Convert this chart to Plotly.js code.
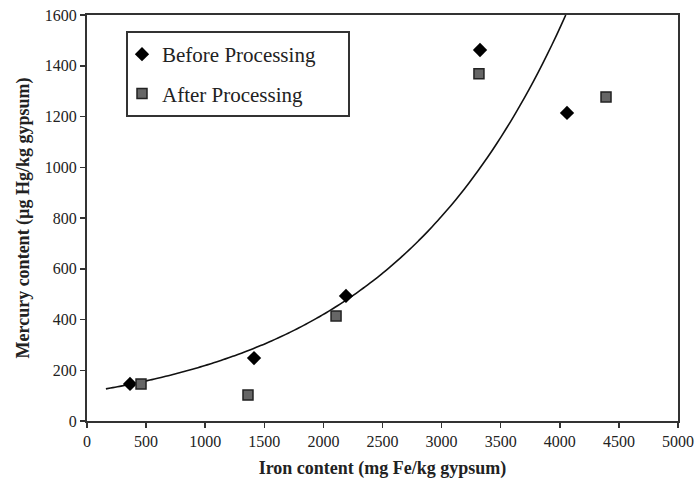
<!DOCTYPE html>
<html><head><meta charset="utf-8">
<script src="https://cdn.plot.ly/plotly-3.0.1.min.js"></script>
<style>html,body{margin:0;padding:0;background:#fff}#c{width:700px;height:480px}</style>
</head><body><div id="c"></div>
<script>
const beforeX = [364, 1413, 2191, 3325, 4061];
const beforeY = [146, 248, 493, 1462, 1214];
const afterX = [457, 1362, 2107, 3316, 4391];
const afterY = [146, 102, 414, 1368, 1277];
const xTicks = [0, 500, 1000, 1500, 2000, 2500, 3000, 3500, 4000, 4500, 5000];
const yTicks = [0, 200, 400, 600, 800, 1000, 1200, 1400, 1600];
const trendStart = 160;

// exponential trend line fitted (least squares on ln y) to the Before data
function expFit(xs, ys) {
  const n = xs.length;
  const ly = ys.map(Math.log);
  const mx = xs.reduce((a, b) => a + b, 0) / n;
  const my = ly.reduce((a, b) => a + b, 0) / n;
  let sxy = 0, sxx = 0;
  for (let i = 0; i < n; i++) { sxy += (xs[i] - mx) * (ly[i] - my); sxx += (xs[i] - mx) ** 2; }
  const b = sxy / sxx;
  return { a: Math.exp(my - b * mx), b: b };
}
const fit = expFit(beforeX, beforeY);
const xEnd = Math.log(1600 / fit.a) / fit.b;
const tx = [], ty = [];
for (let i = 0; i <= 100; i++) {
  const x = trendStart + (xEnd - trendStart) * i / 100;
  tx.push(x); ty.push(fit.a * Math.exp(fit.b * x));
}

const font = 'Liberation Serif, Times New Roman, serif';
const traces = [
  { x: tx, y: ty, mode: 'lines', line: { color: '#111', width: 1.6, shape: 'spline' }, showlegend: false, hoverinfo: 'skip' },
  { x: beforeX, y: beforeY, mode: 'markers', name: 'Before Processing', legendgroup: 'b',
    marker: { symbol: 'diamond', size: 11, color: '#000' } },
  { x: afterX, y: afterY, mode: 'markers', name: 'After Processing', legendgroup: 'a',
    marker: { symbol: 'square', size: 10, color: '#666', line: { color: '#222', width: 1.5 } } }
];
const axisCommon = {
  showgrid: false, zeroline: false, showline: true, linecolor: '#333', linewidth: 2,
  mirror: true, ticks: 'outside', ticklen: 5, tickwidth: 1.5, tickcolor: '#333',
  tickfont: { family: font, size: 16, color: '#222' }
};
const layout = {
  width: 700, height: 480,
  margin: { l: 87, r: 22, t: 15, b: 59 },
  paper_bgcolor: '#fff', plot_bgcolor: '#fff',
  font: { family: font, color: '#222' },
  xaxis: Object.assign({}, axisCommon, {
    range: [0, 5000], tickvals: xTicks, ticktext: xTicks.map(String),
    title: { text: 'Iron content (mg Fe/kg gypsum)', font: { family: font, size: 18, color: '#222', weight: 'bold' }, standoff: 12 }
  }),
  yaxis: Object.assign({}, axisCommon, {
    range: [0, 1600], tickvals: yTicks, ticktext: yTicks.map(String),
    title: { text: 'Mercury content (µg Hg/kg gypsum)', font: { family: font, size: 18, color: '#222', weight: 'bold' }, standoff: 10 }
  }),
  shapes: [{
    type: 'rect', xref: 'paper', yref: 'paper', layer: 'below',
    x0: 40 / 591, x1: 262 / 591, y0: 305 / 406, y1: 389 / 406,
    line: { color: '#333', width: 2 }, fillcolor: '#fff'
  }],
  showlegend: true,
  legend: {
    x: 35 / 591, y: 387 / 406, xanchor: 'left', yanchor: 'top',
    bgcolor: 'rgba(0,0,0,0)', borderwidth: 0,
    font: { family: font, size: 21, color: '#222' },
    tracegroupgap: 9, traceorder: 'grouped'
  }
};
Plotly.newPlot('c', traces, layout, { displayModeBar: false, staticPlot: true });
</script></body></html>
